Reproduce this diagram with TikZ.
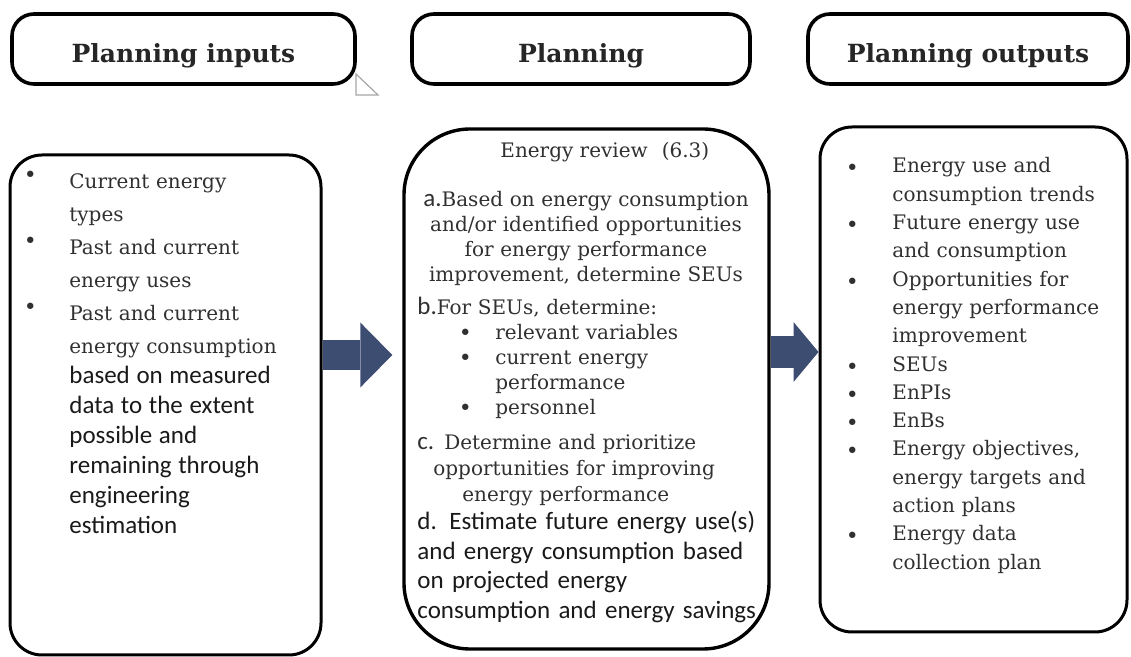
\documentclass[tikz,border=0pt]{standalone}
\usepackage{fontspec}
\setmainfont{DejaVu Serif}
\setsansfont{Carlito}
\usetikzlibrary{positioning,calc,arrows.meta}

\definecolor{flowblue}{RGB}{61,77,113}
\definecolor{textgray}{RGB}{48,48,48}

% bullet hung left of the text: #1 gap to the text, #2 raise
\newcommand{\bulletat}[2]{\leavevmode\llap{\raisebox{#2}{\fontsize{11}{11}\selectfont\textbullet}\hspace{#1}}}
\newcommand{\calib}[1]{{\sffamily\fontsize{12.5}{12.5}\selectfont #1}}

\begin{document}
\begin{tikzpicture}[x=0.5pt, y=-0.5pt,
        header/.style={draw, line width=1.8pt, rounded corners=11pt, minimum height=35pt, text height=14pt, text depth=0.5pt, font=\bfseries\fontsize{12.5}{15}\selectfont, text=black!85},
        panel/.style={draw, line width=1.5pt, rounded corners=16pt},
        txt/.style={inner sep=0pt, align=left, text=textgray, font=\fontsize{10}{12.5}\selectfont},
        cursor/.style={draw=gray!70, line width=0.6pt}
    ]
    \useasboundingbox (0,0) rectangle (1131,657);

    % headers
    \node[header, minimum width=171.5pt] (hin) at (183.5,49) {Planning inputs};
    \node[header, minimum width=169pt] (hplan) at (581,49) {Planning};
    \node[header, minimum width=160pt] (hout) at (968,49) {Planning outputs};
    \draw[cursor] (356,74) -- (356,95) -- (378,95) -- cycle;

    % panels
    \node[panel, minimum width=155.5pt, minimum height=250pt] (inbox) at (165.5,405) {};
    \node[panel, line width=1.7pt, rounded corners=33pt, minimum width=182.5pt, minimum height=260pt] (planbox) at (586.5,389) {};
    \node[panel, minimum width=153.5pt, minimum height=252.5pt] (outbox) at (973.5,379.5) {};

    % inputs
    \node[txt, text width=130pt, anchor=base west, font=\fontsize{10}{16.5}\selectfont] (intext) at (69,189) {%
        \bulletat{16.3pt}{3pt}Current energy\par
        types\par
        \bulletat{16.3pt}{3pt}Past and current\par
        energy uses\par
        \bulletat{16.3pt}{3pt}Past and current\par
        energy consumption\par
        {\sffamily\color{black!90}\fontsize{12.5}{15}\selectfont
        based on measured\par
        data to the extent\par
        possible and\par
        remaining through\par
        engineering\par
        estimation\par}};

    % energy review
    \node[txt, anchor=base west] (revtitle) at (500,158) {Energy review\hspace{7pt}(6.3)};
    \node[txt, text width=175pt, align=center, anchor=base] (stepa) at (586,207) {%
        \calib{a.}Based on energy consumption\par
        and/or identified opportunities\par
        for energy performance\par
        improvement, determine SEUs};
    \node[txt, text width=170pt, anchor=base west] (stepb) at (417,315) {%
        \calib{b.}For SEUs, determine:\par
        \leftskip=39pt
        \bulletat{11.8pt}{-0.5pt}relevant variables\par
        \bulletat{11.8pt}{-0.5pt}current energy\par
        performance\par
        \bulletat{11.8pt}{-0.5pt}personnel\par};
    \node[txt, text width=170pt, anchor=base west, font=\fontsize{10}{13}\selectfont] (stepc) at (417,450) {%
        \calib{c.} Determine and prioritize\par
        \hspace*{8pt}opportunities for improving\par
        \hspace*{22.5pt}energy performance};
    \node[txt, text width=200pt, anchor=base west, text=black!90, font=\sffamily\fontsize{12.5}{14.7}\selectfont] (stepd) at (417,530) {%
        d. Estimate future energy use(s)\par
        and energy consumption based\par
        on projected energy\par
        consumption and energy savings};

    % outputs
    \node[txt, text width=125pt, anchor=base west, font=\fontsize{10}{14.15}\selectfont] (outtext) at (892,173) {%
        \bulletat{16.8pt}{-1.5pt}Energy use and\par
        consumption trends\par
        \bulletat{16.8pt}{-1.5pt}Future energy use\par
        and consumption\par
        \bulletat{16.8pt}{-1.5pt}Opportunities for\par
        energy performance\par
        improvement\par
        \bulletat{16.8pt}{-1.5pt}SEUs\par
        \bulletat{16.8pt}{-1.5pt}EnPIs\par
        \bulletat{16.8pt}{-1.5pt}EnBs\par
        \bulletat{16.8pt}{-1.5pt}Energy objectives,\par
        energy targets and\par
        action plans\par
        \bulletat{16.8pt}{-1.5pt}Energy data\par
        collection plan};

    % flow arrows
    \draw[flowblue, line width=15pt, -{Triangle[length=16pt, width=32.5pt, line width=0pt]}, shorten >=5pt] ([yshift=25pt]inbox.east) -- ([yshift=17pt]planbox.west);
    \draw[flowblue, line width=16pt, -{Triangle[length=12.5pt, width=30pt, line width=0pt]}] ([yshift=18.5pt]planbox.east) -- ([yshift=13.75pt]outbox.west);

\end{tikzpicture}
\end{document}
